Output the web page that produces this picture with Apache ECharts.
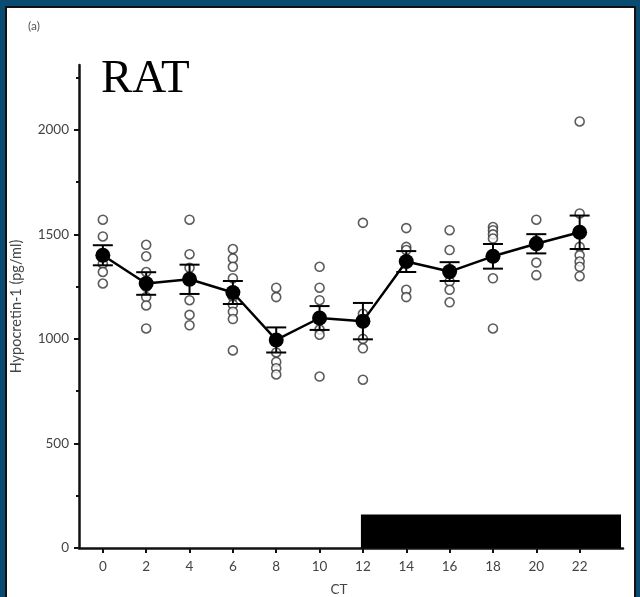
<!DOCTYPE html>
<html>
<head>
<meta charset="utf-8">
<script src="https://cdn.jsdelivr.net/npm/echarts@6/dist/echarts.min.js"></script>
<style>
  html, body { margin: 0; padding: 0; background: #0a4c71; }
  #frame {
    position: absolute; left: 5px; top: 6px; width: 627px; height: 640px;
    border: 2px solid #111; background: #fff;
  }
  #chart { position: absolute; left: 0; top: 0; width: 640px; height: 597px; }
</style>
</head>
<body>
<div id="frame"></div>
<div id="chart"></div>
<script>
// 数据 (CT = circadian time, hours)
const ct = [0, 2, 4, 6, 8, 10, 12, 14, 16, 18, 20, 22];
const meanLevel = [1400, 1265, 1285, 1222, 995, 1100, 1085, 1370, 1322, 1395, 1455, 1510];
const semLevel = [48, 54, 70, 55, 60, 57, 87, 50, 45, 59, 46, 80];
// individual animals per time point
const individual = [
  [1570, 1490, 1360, 1320, 1265],
  [1450, 1395, 1320, 1250, 1200, 1160, 1050],
  [1570, 1405, 1340, 1185, 1115, 1065],
  [1430, 1385, 1345, 1290, 1200, 1165, 1130, 1095, 945],
  [1245, 1200, 935, 890, 860, 830],
  [1345, 1245, 1185, 1045, 1020, 820],
  [1555, 1120, 1080, 1000, 955, 805],
  [1530, 1440, 1425, 1235, 1200],
  [1520, 1425, 1275, 1235, 1175],
  [1535, 1520, 1500, 1480, 1290, 1050],
  [1570, 1470, 1365, 1305],
  [2040, 1600, 1440, 1400, 1370, 1345, 1300]
];
const yTicks = [0, 500, 1000, 1500, 2000];
const yMinorTicks = [250, 750, 1250, 1750, 2250];
const xTicks = [0, 2, 4, 6, 8, 10, 12, 14, 16, 18, 20, 22];
const darkPhase = [12, 24];   // lights off
const darkBarTop = 160;

const chart = echarts.init(document.getElementById('chart'));

const scatterData = [];
individual.forEach((vals, i) => vals.forEach(v => scatterData.push([ct[i], v])));

const labelFont = { color: '#444', fontSize: 13.5, fontFamily: 'Lato', formatter: v => String(v) };

const option = {
  backgroundColor: 'transparent',
  animation: false,
  grid: { left: 79, right: 17, top: 65, bottom: 49, outerBoundsMode: 'none', containLabel: false },
  xAxis: {
    type: 'value',
    min: -1.1,
    max: 24,
    name: 'CT',
    nameLocation: 'middle',
    nameGap: 35,
    nameTextStyle: { color: '#444', fontSize: 13.5, fontFamily: 'Lato', padding: [0, 24, 0, 0] },
    axisLine: { show: true, onZero: false, lineStyle: { color: '#111', width: 2.5 } },
    axisTick: { show: true, customValues: xTicks, length: 5, lineStyle: { color: '#111', width: 2 } },
    axisLabel: Object.assign({ customValues: xTicks, margin: 12 }, labelFont),
    splitLine: { show: false }
  },
  yAxis: [{
    type: 'value',
    min: 0,
    max: 2310,
    name: 'Hypocretin-1 (pg/ml)',
    nameLocation: 'middle',
    nameGap: 55,
    nameTextStyle: { color: '#444', fontSize: 14.5, fontFamily: 'Lato' },
    axisLine: { show: true, onZero: false, lineStyle: { color: '#111', width: 2.5 } },
    axisTick: { show: true, customValues: yTicks, length: 5, lineStyle: { color: '#111', width: 2 } },
    axisLabel: Object.assign({ customValues: yTicks, margin: 10 }, labelFont),
    splitLine: { show: false }
  }, {
    // 辅助刻度 (minor ticks only)
    type: 'value',
    position: 'left',
    offset: 0,
    min: 0,
    max: 2310,
    axisLine: { show: false, onZero: false },
    axisTick: { show: true, customValues: yMinorTicks, length: 3, lineStyle: { color: '#111', width: 2 } },
    axisLabel: { show: false },
    splitLine: { show: false }
  }],
  graphic: [
    { type: 'text', left: 28, top: 20, style: { text: '(a)', fill: '#555', font: '12px Lato' } },
    { type: 'text', x: 101, y: 80, style: { text: 'RAT', fill: '#000', font: '47px "Liberation Serif"', verticalAlign: 'middle' } }
  ],
  series: [
    {
      // dark phase bar
      type: 'custom',
      data: [[darkPhase[0], darkBarTop, darkPhase[1]]],
      encode: { x: [0, 2], y: 1 },
      z: 1,
      renderItem: (params, api) => {
        const p1 = api.coord([api.value(0), api.value(1)]);
        const p2 = api.coord([api.value(2), 0]);
        return { type: 'rect', shape: { x: p1[0] - 2, y: p1[1], width: p2[0] - p1[0], height: p2[1] - p1[1] }, style: { fill: '#000' } };
      }
    },
    {
      type: 'scatter',
      data: scatterData,
      symbol: 'circle',
      symbolSize: 9,
      itemStyle: { color: '#fff', borderColor: '#333', borderWidth: 1.6 },
      z: 2
    },
    {
      type: 'line',
      data: ct.map((c, i) => [c, meanLevel[i]]),
      symbol: 'circle',
      symbolSize: 15,
      itemStyle: { color: '#000' },
      lineStyle: { color: '#000', width: 2.5 },
      z: 4
    },
    {
      // SEM error bars
      type: 'custom',
      data: ct.map((c, i) => [c, meanLevel[i] - semLevel[i], meanLevel[i] + semLevel[i]]),
      encode: { x: 0, y: [1, 2] },
      z: 3,
      renderItem: (params, api) => {
        const lo = api.coord([api.value(0), api.value(1)]);
        const hi = api.coord([api.value(0), api.value(2)]);
        const hw = 10;
        const st = { stroke: '#000', lineWidth: 2 };
        return {
          type: 'group',
          children: [
            { type: 'line', shape: { x1: lo[0], y1: lo[1], x2: hi[0], y2: hi[1] }, style: st },
            { type: 'line', shape: { x1: lo[0] - hw, y1: lo[1], x2: lo[0] + hw, y2: lo[1] }, style: st },
            { type: 'line', shape: { x1: hi[0] - hw, y1: hi[1], x2: hi[0] + hw, y2: hi[1] }, style: st }
          ]
        };
      }
    }
  ]
};

chart.setOption(option);
window.addEventListener('resize', () => chart.resize());
</script>
</body>
</html>
